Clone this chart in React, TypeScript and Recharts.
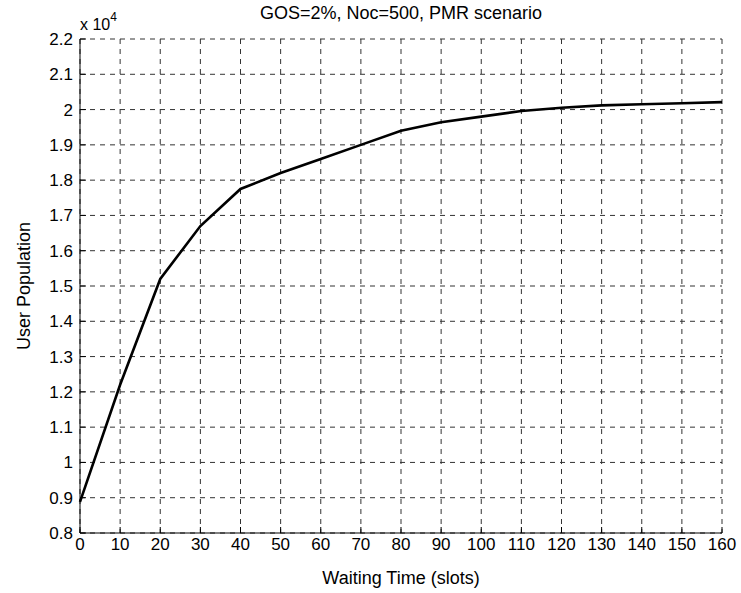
import React from 'react';
import { LineChart, Line, XAxis, YAxis, CartesianGrid, Label } from 'recharts';

const waitingTime = [0, 10, 20, 30, 40, 50, 60, 70, 80, 90, 100, 110, 120, 130, 140, 150, 160];
const userPopulation = [8880, 12200, 15200, 16700, 17750, 18200, 18600, 19000, 19400, 19640, 19800, 19960, 20050, 20120, 20150, 20180, 20210];
const xTicks = [0, 10, 20, 30, 40, 50, 60, 70, 80, 90, 100, 110, 120, 130, 140, 150, 160];
const yTicks = [8000, 9000, 10000, 11000, 12000, 13000, 14000, 15000, 16000, 17000, 18000, 19000, 20000, 21000, 22000];

const data = waitingTime.map((t, i) => ({ t, u: userPopulation[i] }));

const FONT = '"Liberation Sans", Arial, sans-serif';
const W = 741;
const H = 593;
const margin = { top: 39, right: 19, bottom: 0, left: 0 };

export default function App() {
  return (
    <div style={{ position: 'absolute', left: 0, top: 0, width: W, height: H, background: '#fff' }}>
      <LineChart width={W} height={H} data={data} margin={margin} style={{ fontFamily: FONT }}>
        <CartesianGrid xAxisId="b" yAxisId="l" stroke="#333" strokeDasharray="5 5" strokeWidth={1} />
        <XAxis
          xAxisId="b"
          dataKey="t"
          type="number"
          domain={[0, 160]}
          ticks={xTicks}
          interval={0}
          height={60}
          stroke="#000"
          tickSize={-6}
          tickMargin={11}
          tick={{ fill: '#000', fontSize: 17, fontFamily: FONT }}
        >
          <Label value="Waiting Time (slots)" position="insideBottom" offset={9} style={{ fill: '#000', fontSize: 18, fontFamily: FONT }} />
        </XAxis>
        <XAxis xAxisId="t" dataKey="t" type="number" domain={[0, 160]} ticks={xTicks} orientation="top" height={0} stroke="#000" tick={false} tickSize={-6} />
        <YAxis
          yAxisId="l"
          type="number"
          domain={[8000, 22000]}
          ticks={yTicks}
          interval={0}
          width={80}
          stroke="#000"
          tickSize={-6}
          tickMargin={13}
          tickFormatter={(v: number) => String(Math.round(v / 1000) / 10)}
          tick={{ fill: '#000', fontSize: 17, fontFamily: FONT }}
        >
          <Label value="User Population" angle={-90} position="insideLeft" offset={24} style={{ textAnchor: 'middle', fill: '#000', fontSize: 18, fontFamily: FONT }} />
        </YAxis>
        <YAxis yAxisId="r" type="number" domain={[8000, 22000]} ticks={yTicks} orientation="right" width={0} stroke="#000" tick={false} tickSize={-6} />
        <Line xAxisId="b" yAxisId="l" dataKey="u" type="linear" stroke="#000" strokeWidth={2.6} dot={false} isAnimationActive={false} />
      </LineChart>
      <svg width={W} height={H} style={{ position: 'absolute', left: 0, top: 0, pointerEvents: 'none' }}>
        <text x={401} y={19} textAnchor="middle" fontSize={18} fontFamily={FONT} fill="#000">GOS=2%, Noc=500, PMR scenario</text>
        <text x={80} y={30} fontSize={16} fontFamily={FONT} fill="#000">
          x 10<tspan dy={-9} fontSize={12}>4</tspan>
        </text>
      </svg>
    </div>
  );
}
